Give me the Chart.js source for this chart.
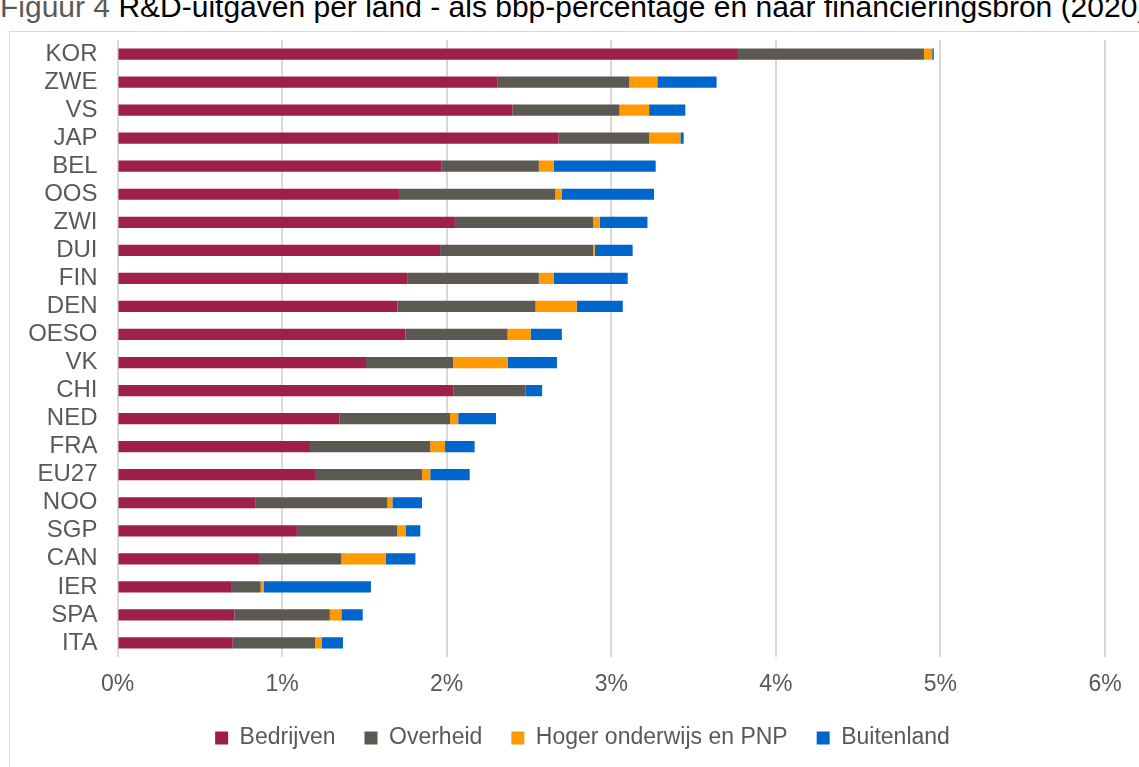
<!DOCTYPE html>
<html lang="nl">
<head>
<meta charset="utf-8">
<title>R&amp;D-uitgaven per land</title>
<script src="https://cdn.jsdelivr.net/npm/chart.js@4.4.1/dist/chart.umd.min.js"></script>
<style>
  html, body { margin: 0; padding: 0; background: #fff; overflow: hidden; }
  body { width: 1139px; height: 767px; position: relative; font-family: "Liberation Sans", Arial, sans-serif; }
  #titel { position: absolute; left: 0; top: -10px; font-size: 30px; white-space: nowrap; color: #000; }
  #titel span { color: #595959; }
  #kader { position: absolute; left: 9px; top: 31px; width: 1200px; height: 800px; border: 1px solid #d9d9d9; box-sizing: border-box; }
  #wrap { position: absolute; left: 0; top: 0; width: 1139px; height: 767px; }
</style>
</head>
<body>
<div id="titel"><span>Figuur 4</span> R&amp;D-uitgaven per land - als bbp-percentage en naar financieringsbron (2020)</div>
<div id="kader"></div>
<div id="wrap"><canvas id="rdChart"></canvas></div>
<script>
// Landen (van boven naar beneden)
const landen = ['KOR', 'ZWE', 'VS', 'JAP', 'BEL', 'OOS', 'ZWI', 'DUI', 'FIN', 'DEN', 'OESO',
  'VK', 'CHI', 'NED', 'FRA', 'EU27', 'NOO', 'SGP', 'CAN', 'IER', 'SPA', 'ITA'];

// Financieringsbronnen, in % van het bbp
const bedrijven = [3.77, 2.31, 2.40, 2.68, 1.97, 1.71, 2.05, 1.96, 1.76, 1.70, 1.75,
  1.51, 2.04, 1.35, 1.17, 1.20, 0.84, 1.09, 0.86, 0.69, 0.71, 0.70];
const overheid = [1.13, 0.80, 0.65, 0.55, 0.59, 0.95, 0.84, 0.93, 0.80, 0.84, 0.62,
  0.53, 0.44, 0.67, 0.73, 0.65, 0.80, 0.61, 0.50, 0.18, 0.58, 0.50];
const hogerOnderwijs = [0.05, 0.17, 0.18, 0.19, 0.09, 0.04, 0.04, 0.01, 0.09, 0.25, 0.14,
  0.33, 0.00, 0.05, 0.09, 0.05, 0.03, 0.05, 0.27, 0.02, 0.07, 0.04];
const buitenland = [0.01, 0.36, 0.22, 0.02, 0.62, 0.56, 0.29, 0.23, 0.45, 0.28, 0.19,
  0.30, 0.10, 0.23, 0.18, 0.24, 0.18, 0.09, 0.18, 0.65, 0.13, 0.13];

const reeksNamen = ['Bedrijven', 'Overheid', 'Hoger onderwijs en PNP', 'Buitenland'];
const xTicks = [0, 1, 2, 3, 4, 5, 6];

const kleuren = {
  bedrijven: '#9f1f4b',
  overheid: '#5c5852',
  hoger: '#ff9a00',
  buitenland: '#0066cc',
  tekst: '#595959',
  grid: '#d9d9d9'
};

const lettertype = '"Liberation Sans", Arial, sans-serif';

function reeks(label, data, kleur) {
  return {
    label: label,
    data: data,
    backgroundColor: kleur,
    borderWidth: 0,
    barPercentage: 0.4,
    categoryPercentage: 1
  };
}

// Legenda iets naar rechts schuiven (in Excel staat ze onder het plotgebied gecentreerd)
const legendaVerschuiving = {
  id: 'legendaVerschuiving',
  afterLayout(chart) {
    const lg = chart.legend;
    if (!lg) return;
    lg.left += 30;
    lg.right += 30;
  }
};

new Chart(document.getElementById('rdChart'), {
  type: 'bar',
  data: {
    labels: landen,
    datasets: [
      reeks(reeksNamen[0], bedrijven, kleuren.bedrijven),
      reeks(reeksNamen[1], overheid, kleuren.overheid),
      reeks(reeksNamen[2], hogerOnderwijs, kleuren.hoger),
      reeks(reeksNamen[3], buitenland, kleuren.buitenland)
    ]
  },
  plugins: [legendaVerschuiving],
  options: {
    indexAxis: 'y',
    responsive: true,
    maintainAspectRatio: false,
    animation: false,
    layout: { padding: { left: 0, right: 34, top: 40, bottom: 7.5 } },
    plugins: {
      tooltip: { enabled: false },
      legend: {
        position: 'bottom',
        labels: {
          color: kleuren.tekst,
          font: { family: lettertype, size: 23 },
          boxWidth: 13,
          boxHeight: 13,
          padding: 29
        }
      }
    },
    scales: {
      x: {
        stacked: true,
        min: 0,
        max: 6,
        afterBuildTicks: (scale) => { scale.ticks = xTicks.map(v => ({ value: v })); },
        afterFit: (scale) => { scale.height = 40.5; },
        ticks: {
          color: kleuren.tekst,
          font: { family: lettertype, size: 23 },
          padding: 14,
          callback: (v) => v + '%'
        },
        grid: { color: kleuren.grid, lineWidth: 2, drawTicks: false },
        border: { display: false }
      },
      y: {
        stacked: true,
        afterFit: (scale) => { scale.width = 117.5; },
        ticks: {
          color: kleuren.tekst,
          font: { family: lettertype, size: 24 },
          padding: 20,
          autoSkip: false
        },
        grid: { display: false, drawTicks: false },
        border: { display: false }
      }
    }
  }
});
</script>
</body>
</html>
